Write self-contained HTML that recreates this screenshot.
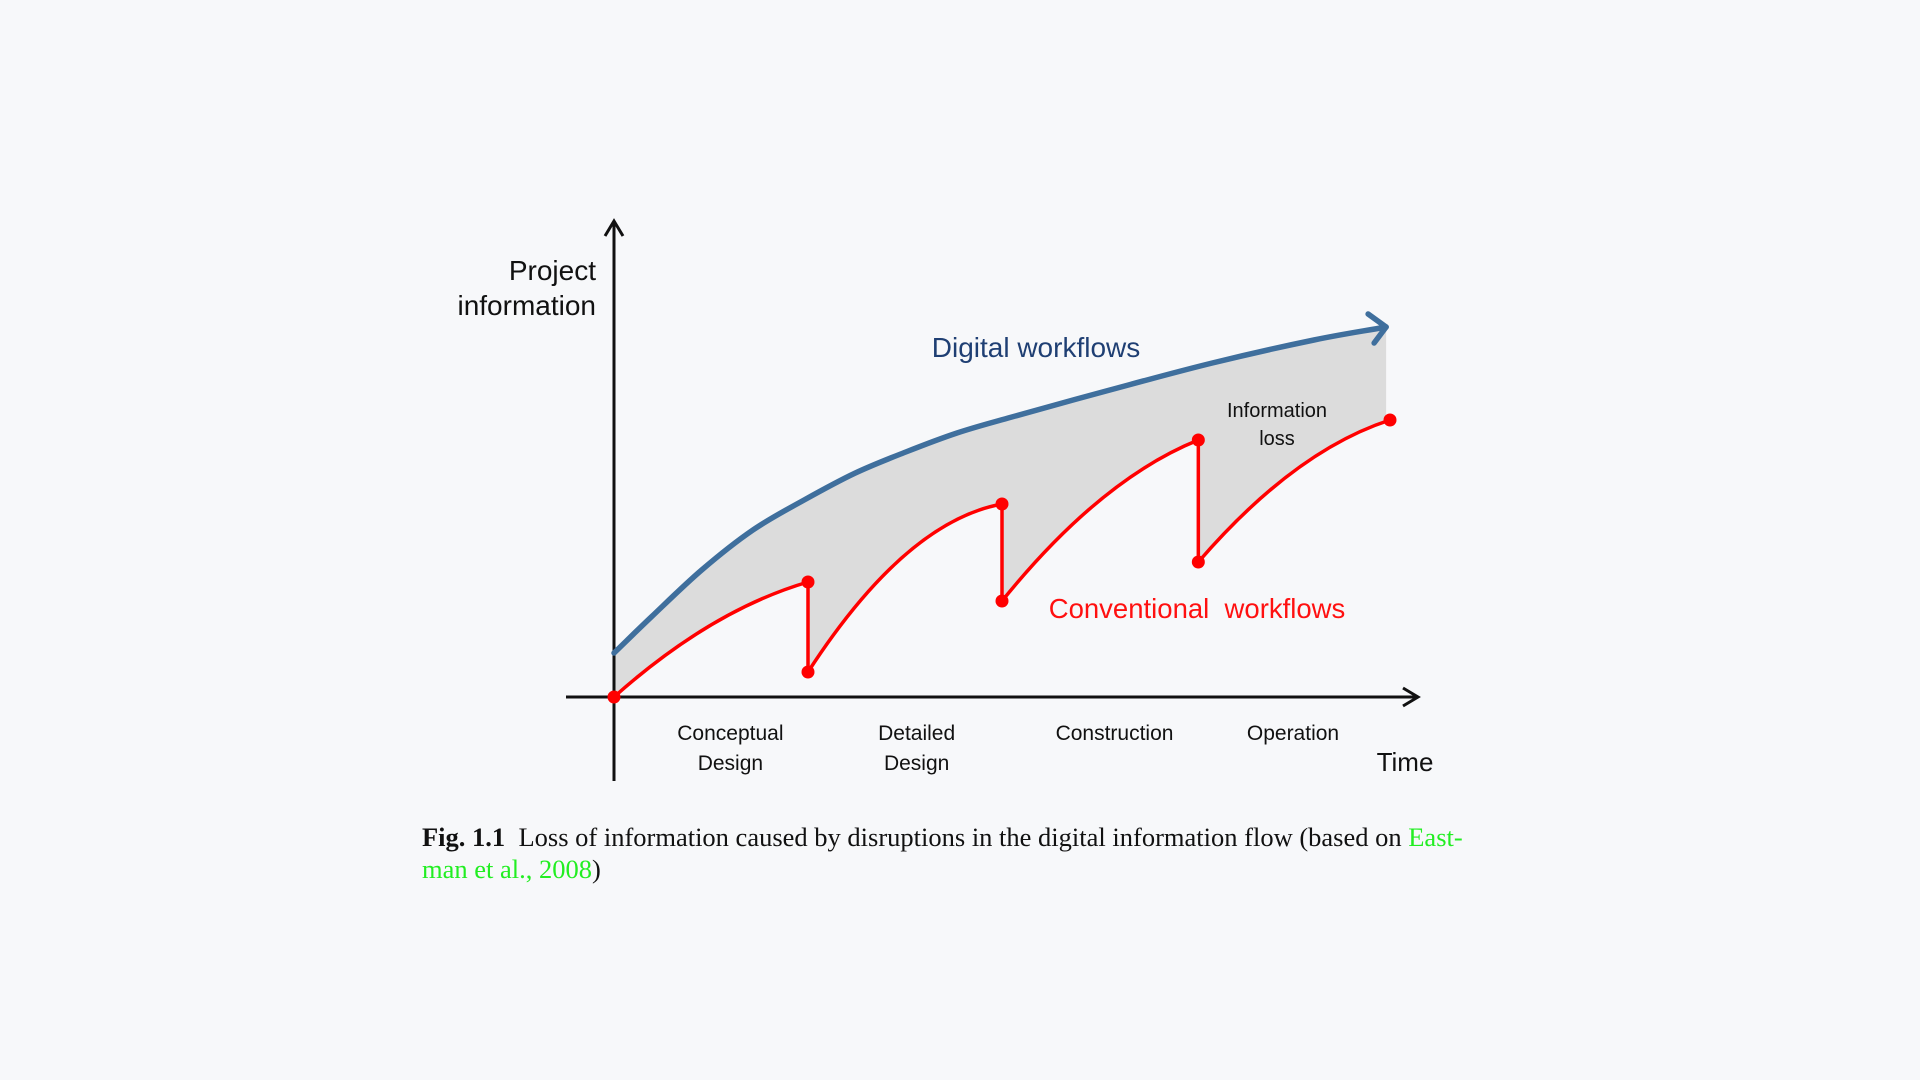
<!DOCTYPE html>
<html><head><meta charset="utf-8"><style>
html,body{margin:0;padding:0;background:#f7f8fa;}
body{width:1920px;height:1080px;position:relative;overflow:hidden;font-family:"Liberation Sans",sans-serif;}
svg{position:absolute;left:0;top:0;}
.cap{position:absolute;left:422px;top:821px;font-family:"Liberation Serif",serif;font-size:26.5px;line-height:32px;color:#111;width:1080px;white-space:nowrap;}
.cap a{color:#22ee22;text-decoration:none;}
</style></head><body>
<svg id="chart" width="1920" height="1080" viewBox="0 0 1920 1080"></svg>
<div class="cap"><b>Fig. 1.1</b>&nbsp; Loss of information caused by disruptions in the digital information flow (based on <a>East-<br>man et al., 2008</a>)</div>
<script>
// Digital workflow curve (time 0-100, information 0-100)
const digitalT = [0, 4.8, 11.3, 17.9, 24.5, 31.1, 37.6, 44.2, 50.8, 63.9, 77.1, 90.2, 99.5];
const digitalV = [11, 20, 31.75, 41.75, 49.25, 56, 61.25, 66, 69.75, 76.75, 83.5, 89.25, 92.5];
// Conventional workflow sawtooth segments
const segStartT = [0, 25, 50, 75.3];
const segStartV = [0, 6.25, 24, 33.75];
const segMidV = [18, 35.5, 49.25, 56.5];
const segEndT = [25, 50, 75.3, 100];
const segEndV = [28.75, 48.25, 64.25, 69.25];
const phases = ["Conceptual|Design", "Detailed|Design", "Construction", "Operation"];
const phaseT = [15, 39, 64.5, 87.5];

const NS = "http://www.w3.org/2000/svg";
const svg = document.getElementById('chart');
const X0 = 614, X1 = 1390, Y0 = 697, YS = 4;
function xs(t){ return X0 + t * (X1 - X0) / 100; }
function ys(v){ return Y0 - v * YS; }
function mk(tag, attrs){ const e = document.createElementNS(NS, tag); for (const k in attrs) e.setAttribute(k, attrs[k]); svg.appendChild(e); return e; }

const dp = digitalT.map((t,i)=>[xs(t), ys(digitalV[i])]);
let dPath = `M${dp[0][0]},${dp[0][1]}`;
for (let i=0;i<dp.length-1;i++){
  const p1 = dp[i], p2 = dp[i+1];
  const p0 = i>0 ? dp[i-1] : [2*p1[0]-p2[0], 2*p1[1]-p2[1]];
  const p3 = i<dp.length-2 ? dp[i+2] : [2*p2[0]-p1[0], 2*p2[1]-p1[1]];
  const c1 = [p1[0]+(p2[0]-p0[0])/6, p1[1]+(p2[1]-p0[1])/6];
  const c2 = [p2[0]-(p3[0]-p1[0])/6, p2[1]-(p3[1]-p1[1])/6];
  dPath += ` C${c1[0]},${c1[1]} ${c2[0]},${c2[1]} ${p2[0]},${p2[1]}`;
}

let rPath = '';
for (let i=0;i<segStartT.length;i++){
  const sx = xs(segStartT[i]), sy = ys(segStartV[i]);
  const ex = xs(segEndT[i]), ey = ys(segEndV[i]);
  const mx = xs((segStartT[i]+segEndT[i])/2), my = ys(segMidV[i]);
  const cx = 2*mx - (sx+ex)/2, cy = 2*my - (sy+ey)/2;
  rPath += (i===0 ? `M${sx},${sy}` : ` L${sx},${sy}`) + ` Q${cx},${cy} ${ex},${ey}`;
}
const lastX = xs(digitalT[digitalT.length-1]);
const gray = mk('path', {d: dPath + ` L${lastX},${Y0} L${X0},${Y0} Z`, fill:'#dcdcdc'});


const bgc = mk('path', {d: rPath + ` L${lastX+4},${ys(segEndV[3])} L${lastX+4},${Y0+2} L${X0},${Y0+2} Z`, fill:'#f7f8fa'});



const ax = mk('g', {stroke:'#111', 'stroke-width':3, fill:'none'});


ax.innerHTML = `<line x1="614" y1="781" x2="614" y2="222"/><polyline points="605,236 614,221 623,236"/>
<line x1="566" y1="697" x2="1416" y2="697"/><polyline points="1403,688 1418,697 1403,706"/>`;

const dl = mk('path', {d: dPath, fill:'none', stroke:'#3f6f9d', 'stroke-width':5.5, 'stroke-linecap':'round', 'stroke-linejoin':'round'});


const ap = dp[dp.length-1];
const ah = mk('polyline', {points:`${ap[0]-18},${ap[1]-13} ${ap[0]},${ap[1]} ${ap[0]-12},${ap[1]+16}`, fill:'none', stroke:'#3f6f9d', 'stroke-width':5.5, 'stroke-linecap':'round','stroke-linejoin':'round'});



const rl = mk('path', {d: rPath, fill:'none', stroke:'#ff0000', 'stroke-width':3.5});


for (let i=0;i<segStartT.length;i++){
  const a = mk('circle', {cx:xs(segStartT[i]), cy:ys(segStartV[i]), r:6.5, fill:'#ff0000'});
  
  
  const b = mk('circle', {cx:xs(segEndT[i]), cy:ys(segEndV[i]), r:6.5, fill:'#ff0000'});
  
  
}

function txt(x,y,s,size,fill,anchor,name){
  const t = mk('text', {x:x, y:y, 'font-size':size, fill:fill, 'text-anchor':anchor, 'font-family':'Liberation Sans, sans-serif'});
  t.textContent = s;
  
  
  return t;
}
txt(596,280,'Project',28,'#111','end','y-axis-title');
txt(596,315,'information',28,'#111','end','y-axis-title-line2');
txt(1036,357,'Digital workflows',28,'#1f3f73','middle','digital-workflows-label');
txt(1277,417,'Information',20,'#111','middle','information-loss-label');
txt(1277,445,'loss',20,'#111','middle','information-loss-label-line2');
txt(1197,618,'Conventional\u00a0 workflows',27.5,'#ff1010','middle','conventional-workflows-label');
txt(1405,771,'Time',26,'#111','middle','x-axis-title');
phases.forEach((p,i)=>{
  const parts = p.split('|');
  parts.forEach((s,j)=>{
    txt(xs(phaseT[i]), 740 + j*30, s, 21, '#111', 'middle', 'phase-label');
  });
});
</script>
</body></html>
